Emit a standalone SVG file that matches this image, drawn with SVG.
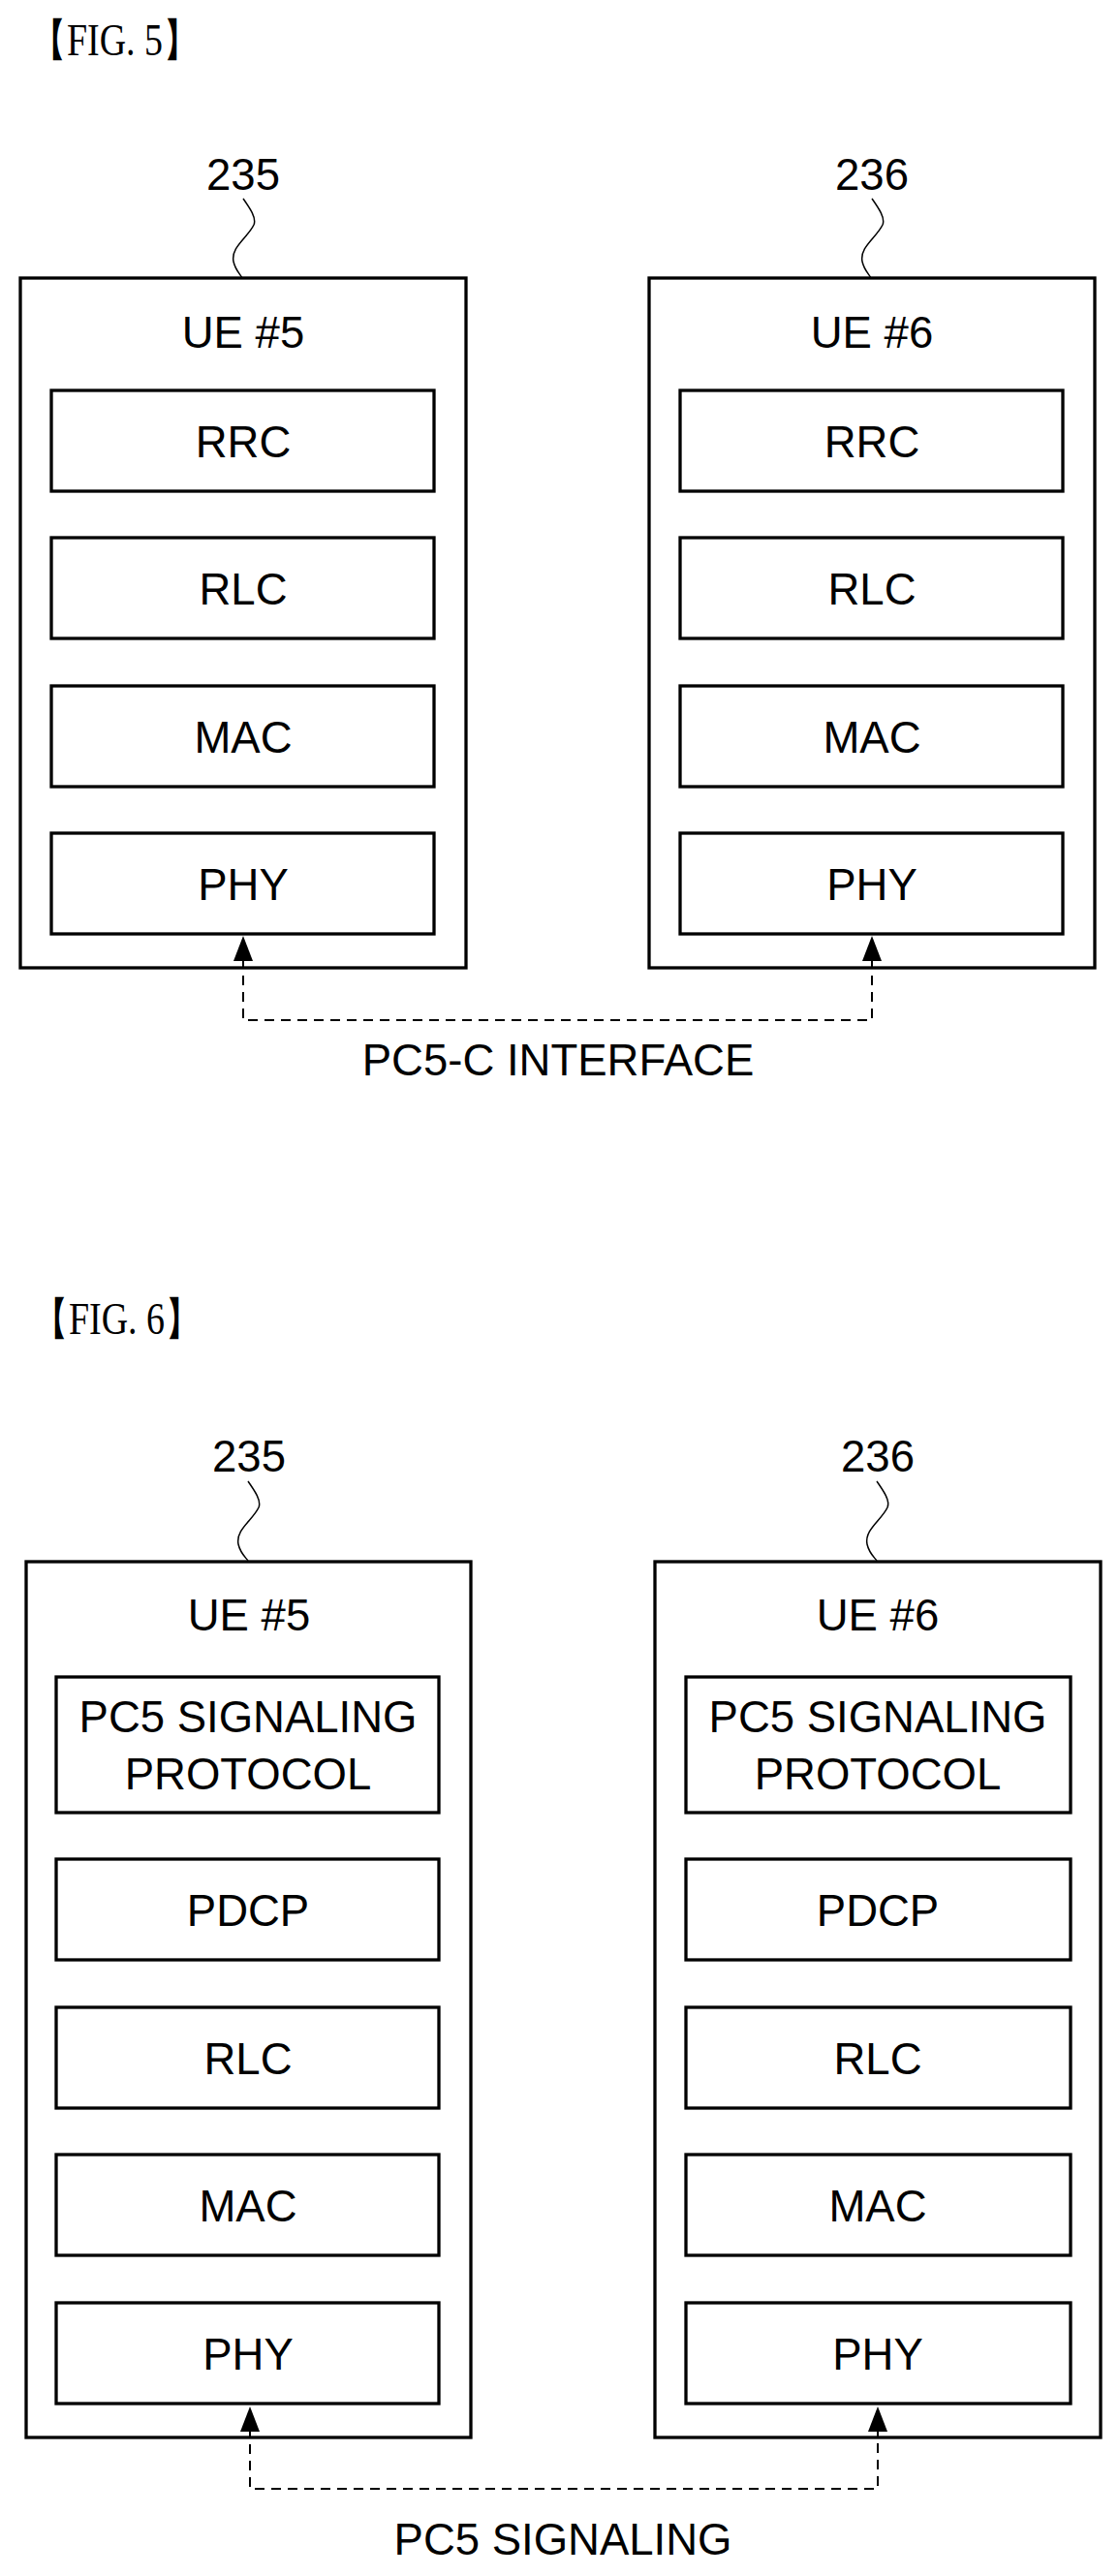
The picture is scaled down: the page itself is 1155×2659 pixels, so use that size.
<svg xmlns="http://www.w3.org/2000/svg" width="1155" height="2659" viewBox="0 0 1155 2659">
<style>
.b{fill:none;stroke:#000;stroke-width:3.3}
.t{font-family:"Liberation Sans",Arial,sans-serif;font-size:45.5px;text-anchor:middle;fill:#000}
.f{font-family:"Liberation Serif","Times New Roman",serif;font-size:46px;fill:#000}
.s{fill:none;stroke:#000;stroke-width:1.5}
.d{fill:none;stroke:#000;stroke-width:2;stroke-dasharray:10,7}
</style>
<rect width="1155" height="2659" fill="#fff"/>
<text class="f" x="31" y="57" textLength="175" lengthAdjust="spacingAndGlyphs">【FIG. 5】</text>
<g id="ue5a">
<text class="t" x="251" y="196">235</text>
<path class="s" d="M251,205 C258,215 265,225 262,232 C256,245 238,255 241,270 C243,279 248,283 250,287"/>
<rect class="b" x="21" y="287" width="460" height="712"/>
<text class="t" x="251" y="359">UE #5</text>
<rect class="b" x="53" y="403" width="395" height="104"/><text class="t" x="251" y="472">RRC</text>
<rect class="b" x="53" y="555" width="395" height="104"/><text class="t" x="251" y="624">RLC</text>
<rect class="b" x="53" y="708" width="395" height="104"/><text class="t" x="251" y="777">MAC</text>
<rect class="b" x="53" y="860" width="395" height="104"/><text class="t" x="251" y="929">PHY</text>
</g>
<g id="ue6a">
<text class="t" x="900" y="196">236</text>
<path class="s" d="M900,205 C907,215 914,225 911,232 C905,245 887,255 890,270 C892,279 897,283 899,287"/>
<rect class="b" x="670" y="287" width="460" height="712"/>
<text class="t" x="900" y="359">UE #6</text>
<rect class="b" x="702" y="403" width="395" height="104"/><text class="t" x="900" y="472">RRC</text>
<rect class="b" x="702" y="555" width="395" height="104"/><text class="t" x="900" y="624">RLC</text>
<rect class="b" x="702" y="708" width="395" height="104"/><text class="t" x="900" y="777">MAC</text>
<rect class="b" x="702" y="860" width="395" height="104"/><text class="t" x="900" y="929">PHY</text>
</g>
<g id="conn5">
<path class="d" d="M251,990 V1053 H900 V990"/>
<path d="M241,992 L251,966 L261,992 Z"/>
<path d="M890,992 L900,966 L910,992 Z"/>
</g>
<text class="t" x="576" y="1110">PC5-C INTERFACE</text>

<text class="f" x="33" y="1377" textLength="175" lengthAdjust="spacingAndGlyphs">【FIG. 6】</text>
<g id="ue5b">
<text class="t" x="257" y="1519">235</text>
<path class="s" d="M256,1529 C263,1539 270,1549 267,1556 C261,1569 243,1579 246,1594 C248,1603 253,1607 256,1611"/>
<rect class="b" x="27" y="1612" width="459" height="904"/>
<text class="t" x="257" y="1683">UE #5</text>
<rect class="b" x="58" y="1731" width="395" height="140"/><text class="t" x="256" y="1788">PC5 SIGNALING</text><text class="t" x="256" y="1847">PROTOCOL</text>
<rect class="b" x="58" y="1919" width="395" height="104"/><text class="t" x="256" y="1988">PDCP</text>
<rect class="b" x="58" y="2072" width="395" height="104"/><text class="t" x="256" y="2141">RLC</text>
<rect class="b" x="58" y="2224" width="395" height="104"/><text class="t" x="256" y="2293">MAC</text>
<rect class="b" x="58" y="2377" width="395" height="104"/><text class="t" x="256" y="2446">PHY</text>
</g>
<g id="ue6b">
<text class="t" x="906" y="1519">236</text>
<path class="s" d="M905,1529 C912,1539 919,1549 916,1556 C910,1569 892,1579 895,1594 C897,1603 902,1607 905,1611"/>
<rect class="b" x="676" y="1612" width="460" height="904"/>
<text class="t" x="906" y="1683">UE #6</text>
<rect class="b" x="708" y="1731" width="397" height="140"/><text class="t" x="906" y="1788">PC5 SIGNALING</text><text class="t" x="906" y="1847">PROTOCOL</text>
<rect class="b" x="708" y="1919" width="397" height="104"/><text class="t" x="906" y="1988">PDCP</text>
<rect class="b" x="708" y="2072" width="397" height="104"/><text class="t" x="906" y="2141">RLC</text>
<rect class="b" x="708" y="2224" width="397" height="104"/><text class="t" x="906" y="2293">MAC</text>
<rect class="b" x="708" y="2377" width="397" height="104"/><text class="t" x="906" y="2446">PHY</text>
</g>
<g id="conn6">
<path class="d" d="M258,2506 V2569 H906 V2506"/>
<path d="M248,2510 L258,2484 L268,2510 Z"/>
<path d="M896,2510 L906,2484 L916,2510 Z"/>
</g>
<text class="t" x="581" y="2637">PC5 SIGNALING</text>
</svg>
